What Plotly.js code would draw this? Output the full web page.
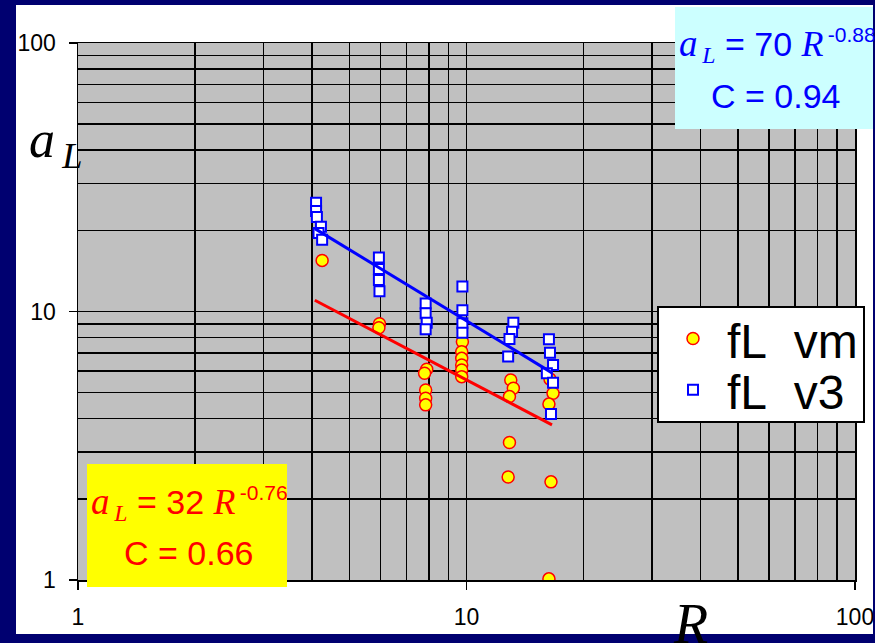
<!DOCTYPE html>
<html>
<head>
<meta charset="utf-8">
<script src="https://cdn.plot.ly/plotly-3.0.1.min.js"></script>
<style>
  html, body { margin: 0; padding: 0; background: #ffffff; }
  #chart { width: 875px; height: 643px; }
</style>
</head>
<body>
<div id="chart"></div>
<script>
// fL vm : longitudinal coefficient vs. distance R
const rVm = [4.25, 5.97, 5.95,
             7.90, 7.80, 7.85, 7.85, 7.85,
             9.76, 9.72, 9.72, 9.72, 9.72, 9.72,
             13.0, 13.2, 12.9, 12.9, 12.8,
             16.7, 16.3, 16.4, 16.5, 16.3];
const aVm = [15.5, 9.0, 8.7,
             6.09, 5.89, 5.10, 4.75, 4.49,
             7.72, 7.08, 6.69, 6.32, 6.06, 5.72,
             5.56, 5.18, 4.82, 3.25, 2.42,
             4.96, 4.52, 5.60, 2.32, 1.01];

// fL v3
const rV3 = [4.10, 4.10, 4.12, 4.22, 4.16, 4.25,
             5.95, 5.95, 5.95, 5.97,
             7.85, 7.85, 7.90, 7.85,
             9.76, 9.76, 9.76, 9.76,
             13.2, 13.1, 12.9, 12.8,
             16.3, 16.4, 16.7, 16.1, 16.7, 16.5];
const aV3 = [25.4, 23.7, 22.5, 20.7, 19.6, 18.5,
             15.9, 14.4, 13.1, 11.9,
             10.7, 9.85, 9.09, 8.58,
             12.4, 10.1, 9.04, 8.34,
             9.09, 8.41, 7.90, 6.80,
             7.88, 7.02, 6.32, 5.89, 5.43, 4.15];

// power-law fits  aL = k * R^p  (index 0: vm, index 1: v3)
const seriesNames = ['fL\u00a0\u00a0vm', 'fL\u00a0\u00a0v3'];
const fitCoef = [32, 70];
const fitExp = [-0.76, -0.88];
const fitCorr = [0.66, 0.94];
const fitRange = [4.07, 16.6];

// axis ticks and grid
const majorTicks = [1, 10, 100];
const minorTicks = [2, 3, 4, 5, 6, 7, 8, 9, 20, 30, 40, 50, 60, 70, 80, 90];

// ---- page geometry (pixels) ----
const W = 875, H = 643, ML = 78, MR = 20, MT = 43, MB = 63;
const PW = W - ML - MR, PH = H - MT - MB;
const px = x => (x - ML) / PW;
const py = y => (H - MB - y) / PH;

const NAVY = '#000070';
const SANS = 'Liberation Sans, Arial, sans-serif';
const SERIF = 'Liberation Serif';

function fitLine(i) {
  return fitRange.map(r => fitCoef[i] * Math.pow(r, fitExp[i]));
}

// legend labels drawn larger than the legend row height, nudged down to sit beside the symbol
const legendLabel = s => `<span style="font-size:48px;baseline-shift:-5px">${s}</span>`;

const traces = [
  {
    x: rVm, y: aVm, name: legendLabel(seriesNames[0]), type: 'scatter', mode: 'markers',
    marker: { symbol: 'circle', size: 12, color: '#ffff00', line: { color: '#ff0000', width: 1.5 } }
  },
  {
    x: rV3, y: aV3, name: legendLabel(seriesNames[1]), type: 'scatter', mode: 'markers',
    marker: { symbol: 'square', size: 10, color: '#ffffff', line: { color: '#0000ff', width: 2 } }
  },
  {
    x: fitRange, y: fitLine(0), type: 'scatter', mode: 'lines', showlegend: false,
    line: { color: '#ff0000', width: 3 }
  },
  {
    x: fitRange, y: fitLine(1), type: 'scatter', mode: 'lines', showlegend: false,
    line: { color: '#0000ff', width: 3 }
  }
];

function rect(x0, y0, x1, y1, fill) {
  return {
    type: 'rect', xref: 'paper', yref: 'paper', layer: 'above',
    x0: px(x0), x1: px(x1), y0: py(y1), y1: py(y0),
    fillcolor: fill, line: { width: 0 }
  };
}

function eqText(i) {
  const it = (s, sz) => `<i><span style="font-family:${SERIF};font-size:${sz}px">${s}</span></i>`;
  return `${it('a', 37)}<sub><i><span style="font-family:${SERIF}">\u2009L</span></i></sub>` +
         `\u00a0=\u00a0${fitCoef[i]}\u00a0${it('R', 36)}` +
         `<sup><span style="font-size:21px">\u2009${fitExp[i].toFixed(2)}</span></sup>`;
}

function note(text, x, y, xanchor, size, color, family) {
  return {
    text: text, xref: 'paper', yref: 'paper', x: px(x), y: py(y),
    xanchor: xanchor, yanchor: 'middle', showarrow: false, borderpad: 0,
    font: { family: family || SANS, size: size, color: color }
  };
}

const axisCommon = {
  type: 'log', range: [0, 2],
  showgrid: true, gridcolor: '#000000', gridwidth: 1.5,
  showline: true, linecolor: '#000000', linewidth: 1.5, mirror: true,
  tickmode: 'array', tickvals: majorTicks, ticktext: majorTicks.map(String),
  ticks: 'outside', ticklen: 8, tickwidth: 1.5, tickcolor: '#000000',
  tickfont: { family: SANS, size: 23, color: '#000000' },
  minor: { tickmode: 'array', tickvals: minorTicks, showgrid: true, gridcolor: '#000000', gridwidth: 1.5, ticks: '' },
  zeroline: false
};

const layout = {
  width: W, height: H,
  margin: { l: ML, r: MR, t: MT, b: MB, pad: 0, autoexpand: false },
  paper_bgcolor: '#ffffff', plot_bgcolor: '#c0c0c0',
  xaxis: Object.assign({}, axisCommon, { ticklabelstandoff: 8 }),
  yaxis: Object.assign({}, axisCommon, { ticklabelstandoff: 8 }),
  showlegend: true,
  legend: {
    x: px(657), y: py(306), xanchor: 'left', yanchor: 'top',
    bgcolor: '#ffffff', bordercolor: '#000000', borderwidth: 2,
    font: { family: SANS, size: 37, color: '#000000' },
    itemwidth: 58, tracegroupgap: 0
  },
  shapes: [
    rect(0, 0, W, 5, NAVY),
    rect(0, 0, 16, H, NAVY),
    rect(873, 0, W, H, NAVY),
    rect(0, 634, W, H, NAVY),
    rect(675, 7, 873, 129, '#ccffff'),
    rect(87, 464, 287, 587, '#ffff00')
  ],
  annotations: [
    note(eqText(1), 678, 45, 'left', 34, '#0000ff'),
    note(`C = ${fitCorr[1].toFixed(2)}`, 775, 96, 'center', 34, '#0000ff'),
    note(eqText(0), 90, 503, 'left', 34, '#ff0000'),
    note(`C = ${fitCorr[0].toFixed(2)}`, 188, 553, 'center', 34, '#ff0000'),
    note('<i>a</i><sub><i>\u2009L</i></sub>', 28, 143, 'left', 52, '#000000', SERIF),
    note('<i>R</i>', 690, 624, 'center', 56, '#000000', SERIF)
  ]
};

Plotly.newPlot('chart', traces, layout, { displayModeBar: false, staticPlot: true });
</script>
</body>
</html>
